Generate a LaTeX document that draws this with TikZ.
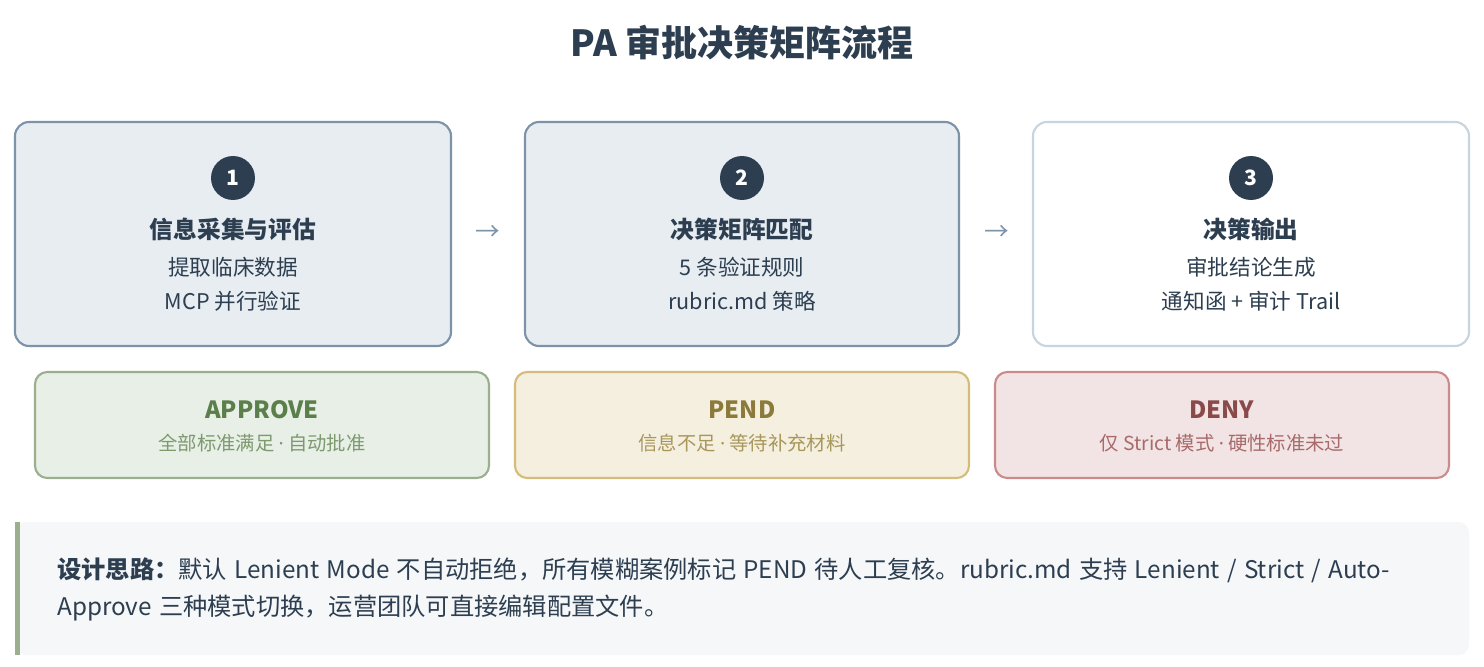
\documentclass[tikz,border=0pt]{standalone}
\usepackage{fontspec}
\setmainfont{Noto Sans CJK SC}
\newfontfamily\latinfont{Noto Sans}
\newcommand{\middot}{{\latinfont ·}}
\newcommand{\widespace}{\spaceskip=0.3em\relax}
\usetikzlibrary{positioning}
\definecolor{ink}{HTML}{2C3E50}
\definecolor{stepfill}{HTML}{E8EDF2}
\definecolor{stepline}{HTML}{7D93A8}
\definecolor{lastline}{HTML}{C9D5DE}
\definecolor{okfill}{HTML}{E8EFE6}\definecolor{okline}{HTML}{9BAE8E}\definecolor{oktext}{HTML}{5B7F4A}\definecolor{oksub}{HTML}{7C9A6E}
\definecolor{pdfill}{HTML}{F5EFE0}\definecolor{pdline}{HTML}{D4BC7A}\definecolor{pdtext}{HTML}{8B7A3A}\definecolor{pdsub}{HTML}{A8975A}
\definecolor{dnfill}{HTML}{F2E4E4}\definecolor{dnline}{HTML}{CC8A8A}\definecolor{dntext}{HTML}{8B4A4A}\definecolor{dnsub}{HTML}{A86A6A}
\definecolor{notefill}{HTML}{F5F7F9}
\begin{document}
\begin{tikzpicture}[x=0.02cm,y=-0.02cm,
        % Caja de paso
        stepbox/.style={draw=stepline, fill=stepfill, line width=1.2pt, rounded corners=8pt},
        % Numero
        numdot/.style={circle, fill=ink, minimum size=0.88cm, inner sep=0pt, text=white, font=\bfseries\fontsize{12}{14}\selectfont},
        steptitle/.style={text=ink, font=\bfseries\fontsize{13.5}{15}\selectfont},
        stepline/.style={text=ink, font=\fontsize{12.3}{14}\selectfont},
        % Caja de resultado
        resbox/.style={line width=1.2pt, rounded corners=7pt},
        restitle/.style={font=\bfseries\fontsize{13.5}{15}\selectfont},
        ressub/.style={font=\fontsize{11}{13}\selectfont},
        flow/.style={text=stepline, font=\fontsize{14}{16}\selectfont}
    ]
    \fill[white] (0,0) rectangle (1484,666);

    % TITULO
    \node[text=ink, font=\bfseries\fontsize{20.5}{22}\selectfont] (title) at (742,43) {PA 审批决策矩阵流程};

    % PASOS
    \draw[stepbox] (15,122) rectangle (451,346);
    \draw[stepbox] (525,122) rectangle (959,346);
    \draw[stepbox, draw=lastline, fill=white] (1033,122) rectangle (1469,346);
    \foreach \n/\cx/\t/\a/\b in {1/233/信息采集与评估/提取临床数据/MCP 并行验证,
                                 2/742/决策矩阵匹配/5 条验证规则/rubric.md 策略,
                                 3/1251/决策输出/审批结论生成/通知函 + 审计 Trail}{
        \node[numdot] (num\n) at (\cx,178) {\n};
        \node[steptitle] (head\n) at (\cx,229) {\t};
        \node[stepline] (lineA\n) at (\cx,267) {\a};
        \node[stepline] (lineB\n) at (\cx,301) {\b};
    }
    \node[flow] (flowA) at (488,233) {→};
    \node[flow] (flowB) at (997,233) {→};

    % RESULTADOS
    \draw[resbox, draw=okline, fill=okfill] (35,372) rectangle (489,478);
    \draw[resbox, draw=pdline, fill=pdfill] (515,372) rectangle (969,478);
    \draw[resbox, draw=dnline, fill=dnfill] (995,372) rectangle (1449,478);
    \node[restitle, text=oktext] (approve) at (262,410) {APPROVE};
    \node[ressub, text=oksub] (approveSub) at (262,443) {全部标准满足 \middot{} 自动批准};
    \node[restitle, text=pdtext] (pend) at (742,410) {PEND};
    \node[ressub, text=pdsub] (pendSub) at (742,443) {信息不足 \middot{} 等待补充材料};
    \node[restitle, text=dntext] (deny) at (1222,410) {DENY};
    \node[ressub, text=dnsub] (denySub) at (1222,443) {仅 Strict 模式 \middot{} 硬性标准未过};

    % NOTA
    \fill[notefill, rounded corners=6pt] (15,522) rectangle (1469,655);
    \fill[okline] (15,522) rectangle (20,655);
    \node[anchor=north west, text=ink, align=left, inner sep=0pt,
          font=\fontsize{13.8}{21.5}\selectfont\widespace] (note) at (57,557)
        {\textbf{设计思路：}默认 Lenient Mode 不自动拒绝，所有模糊案例标记 PEND 待人工复核。rubric.md 支持 Lenient / Strict / Auto-\\
         Approve 三种模式切换，运营团队可直接编辑配置文件。};
\end{tikzpicture}
\end{document}
